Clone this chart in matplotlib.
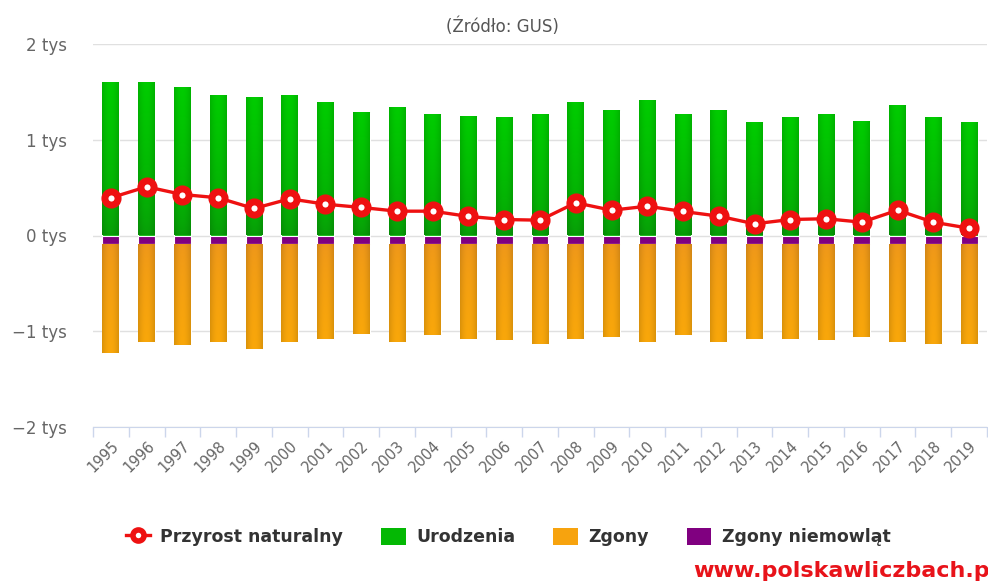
import numpy as np
import matplotlib
matplotlib.use("Agg")
import matplotlib.pyplot as plt
from matplotlib.lines import Line2D
from matplotlib.patches import Patch
from matplotlib.ticker import FuncFormatter

# values
years = [str(y) for y in range(1995, 2020)]
urodzenia = [1606, 1606, 1554, 1463, 1445, 1463, 1393, 1285, 1341, 1268, 1251, 1233, 1268,
             1393, 1306, 1411, 1268, 1306, 1181, 1233, 1268, 1198, 1358, 1233, 1181]
zgony = [1141, 1026, 1061, 1026, 1096, 1026, 991, 939, 1026, 957, 991, 1009, 1044,
         991, 974, 1026, 957, 1026, 991, 991, 1009, 974, 1026, 1044, 1044]
zgony_niemowlat = [85, 85, 85, 85, 85, 85, 85, 85, 85, 85, 85, 85, 85,
                   85, 85, 85, 85, 85, 85, 85, 85, 85, 85, 85, 85]
przyrost = [394, 509, 428, 394, 282, 383, 327, 293, 254, 254, 199, 167, 160,
            342, 264, 306, 251, 202, 122, 167, 175, 139, 264, 139, 76]

GREEN = "#04b804"
ORANGE = "#f7a30e"
PURPLE = "#800080"
RED = "#ee1111"


def shade(ax, bars, c_top, c_bot):
    # soft gradient like the original (lighter centre, darker bottom)
    top = np.array(matplotlib.colors.to_rgb(c_top))
    bot = np.array(matplotlib.colors.to_rgb(c_bot))
    ny, nx = 40, 20
    t = np.linspace(0, 1, ny)[:, None, None] ** 0.6
    col = bot * (1 - t) + top * t
    edge = 1 - 0.12 * np.abs(np.linspace(-1, 1, nx))[None, :, None] ** 2
    img = np.clip(col * edge, 0, 1)
    for b in bars:
        x0, y0 = b.get_x(), b.get_y()
        w, h = b.get_width(), b.get_height()
        im = ax.imshow(img if h > 0 else img[::-1], extent=[x0, x0 + w, min(y0, y0 + h), max(y0, y0 + h)],
                       aspect="auto", origin="lower", zorder=b.get_zorder(), interpolation="bilinear")
        im.set_clip_path(b)


plt.rcParams["font.family"] = ["DejaVu Sans"]
fig = plt.figure(figsize=(9.88, 5.83), dpi=100)
ax = fig.add_axes([93 / 988, 156 / 583, 894 / 988, 383 / 583])

x = np.arange(len(years))
w = 0.47
b1 = ax.bar(x, urodzenia, w, color=GREEN, edgecolor="white", linewidth=0.8, zorder=2)
b3 = ax.bar(x, [-v for v in zgony_niemowlat], w, color=PURPLE, edgecolor="white", linewidth=0.8, zorder=2)
b2 = ax.bar(x, [-v for v in zgony], w, bottom=[-v for v in zgony_niemowlat], color=ORANGE,
            edgecolor="white", linewidth=0.8, zorder=2)
shade(ax, b1, "#00cc00", "#089c08")
shade(ax, b2, "#f9a70a", "#ee961c")

ax.plot(x, przyrost, color=RED, lw=2.4, marker="o", ms=9.5, mew=5,
        mfc="white", mec=RED, zorder=4)

ax.set_xlim(-0.5, len(years) - 0.5)
ax.set_ylim(-2000, 2000)
ax.set_yticks([-2000, -1000, 0, 1000, 2000])
ax.yaxis.set_major_formatter(FuncFormatter(lambda v, p: f"{v / 1000:.0f} tys".replace("-", "\u2212")))
ax.grid(axis="y", color="#e0e0e0", lw=1, zorder=0)
for s in ["top", "right", "left"]:
    ax.spines[s].set_visible(False)
ax.spines["bottom"].set_color("#ccd6eb")
ax.tick_params(axis="y", length=0, pad=19, labelsize=12, labelcolor="#666666")

ax.set_xticks(x)
ax.set_xticklabels(years, rotation=45, ha="right", rotation_mode="anchor",
                   fontsize=10.5, color="#666666")
ax.tick_params(axis="x", which="major", length=0, pad=8)
ax.set_xticks(np.arange(-0.5, len(years), 1), minor=True)
ax.tick_params(axis="x", which="minor", length=7, color="#ccd6eb", width=1)

fig.text(502 / 988, 1 - 27 / 583, "(Źródło: GUS)", ha="center", va="center",
         fontsize=12, color="#555555")

handles = [
    Line2D([0], [0], color=RED, lw=2.4, marker="o", ms=8, mew=4, mfc="white", mec=RED),
    Patch(facecolor=GREEN, edgecolor="none"),
    Patch(facecolor=ORANGE, edgecolor="none"),
    Patch(facecolor=PURPLE, edgecolor="none"),
]
labels = ["Przyrost naturalny", "Urodzenia", "Zgony", "Zgony niemowląt"]
fig.legend(handles, labels, loc="center", bbox_to_anchor=(508 / 988, 1 - 537 / 583), ncol=4,
           frameon=False, handlelength=1.4, handleheight=1.1, handletextpad=0.6, columnspacing=2.2,
           prop={"weight": "bold", "size": 12.5}, labelcolor="#333333")

fig.text(693 / 988, 1 - 571 / 583, "www.polskawliczbach.pl", ha="left", va="center",
         fontsize=16, fontweight="bold", color="#e8131a")

fig.savefig("out.png", dpi=100)
